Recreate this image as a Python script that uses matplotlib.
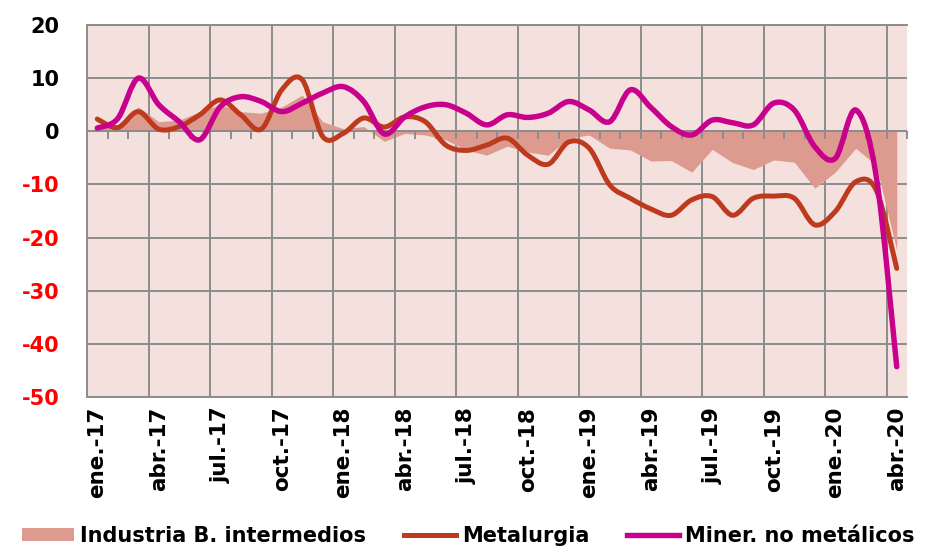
import numpy as np
import matplotlib
matplotlib.use("Agg")
import matplotlib.pyplot as plt
from matplotlib.path import Path
from matplotlib.patches import PathPatch, Patch
from matplotlib.lines import Line2D
from matplotlib.markers import TICKDOWN

plt.rcParams["font.family"] = ["DejaVu Sans"]
plt.rcParams["font.weight"] = "bold"
plt.rcParams["axes.unicode_minus"] = False

# monthly series, ene-17 .. abr-20
months = ["ene.-17", "feb.-17", "mar.-17", "abr.-17", "may.-17", "jun.-17",
          "jul.-17", "ago.-17", "sep.-17", "oct.-17", "nov.-17", "dic.-17",
          "ene.-18", "feb.-18", "mar.-18", "abr.-18", "may.-18", "jun.-18",
          "jul.-18", "ago.-18", "sep.-18", "oct.-18", "nov.-18", "dic.-18",
          "ene.-19", "feb.-19", "mar.-19", "abr.-19", "may.-19", "jun.-19",
          "jul.-19", "ago.-19", "sep.-19", "oct.-19", "nov.-19", "dic.-19",
          "ene.-20", "feb.-20", "mar.-20", "abr.-20"]
industria = [0.5, 1.2, 4.6, 1.8, 2.1, 3.7, 5.0, 3.7, 3.4, 4.6, 6.8, 1.8,
             0.5, 0.9, -1.9, -0.4, -0.7, -1.6, -3.5, -4.5, -2.8, -3.9, -4.5, -1.3,
             -0.7, -3.2, -3.5, -5.6, -5.5, -7.7, -3.4, -5.9, -7.2, -5.4, -5.8, -10.7,
             -7.7, -3.2, -6.4, -22.4]
metalurgia = [2.3, 0.7, 3.7, 0.4, 0.9, 3.1, 5.9, 3.1, 0.4, 7.8, 9.7, -1.0,
              -0.4, 2.5, 0.8, 2.7, 1.8, -2.6, -3.6, -2.6, -1.3, -4.5, -6.2, -2.0,
              -3.2, -10.1, -12.6, -14.6, -15.8, -12.9, -12.3, -15.8, -12.6, -12.2, -12.6, -17.6,
              -15.1, -9.5, -11.1, -25.8]
miner = [0.6, 2.4, 10.0, 5.0, 1.8, -1.6, 4.6, 6.5, 5.6, 3.7, 5.3, 7.2,
         8.4, 5.6, -0.5, 2.7, 4.6, 5.0, 3.4, 1.2, 3.1, 2.6, 3.4, 5.6,
         4.0, 1.8, 7.8, 4.5, 0.9, -0.7, 2.1, 1.6, 1.2, 5.3, 4.0, -2.9,
         -5.1, 4.0, -8.5, -44.3]
yticks = [20, 10, 0, -10, -20, -30, -40, -50]

BG = "#F4E1DE"
AREA = "#DD9B8F"
RED = "#BE3A1E"
MAG = "#C8008C"
GRID = "#8C8C8C"


def smooth_path(x, y):
    # Excel-style smoothed line: cubic Bezier through the points (Catmull-Rom)
    p = np.column_stack([x, y]).astype(float)
    n = len(p)
    verts = [p[0]]
    codes = [Path.MOVETO]
    for i in range(n - 1):
        p0 = p[i - 1] if i > 0 else p[i]
        p3 = p[i + 2] if i + 2 < n else p[i + 1]
        c1 = p[i] + (p[i + 1] - p0) / 6.0
        c2 = p[i + 1] - (p3 - p[i]) / 6.0
        verts += [c1, c2, p[i + 1]]
        codes += [Path.CURVE4] * 3
    return Path(verts, codes)


fig = plt.figure(figsize=(9.27, 5.56), dpi=100)
ax = fig.add_axes([87 / 927, 1 - 397 / 556, 820 / 927, 372 / 556])
ax.set_facecolor(BG)
ax.set_xlim(-0.5, len(months) - 0.5)
ax.set_ylim(-50, 20)
x = np.arange(len(months))

ax.fill_between(x, 0, industria, color=AREA, lw=0, zorder=2)
# category axis on the zero line, with small tick marks between months
bounds = np.arange(-0.5, len(months), 1)
ax.axhline(0, color=GRID, lw=1.4, zorder=3)
ax.plot(bounds, np.zeros(len(bounds)), ls="none", marker=TICKDOWN, ms=6, mew=1.4,
        color=GRID, zorder=3, clip_on=False)
for vals, col, lw in [(metalurgia, RED, 3.6), (miner, MAG, 3.9)]:
    ax.add_patch(PathPatch(smooth_path(x, vals), facecolor="none", edgecolor=col,
                           lw=lw, capstyle="round", joinstyle="round", zorder=4))

# grid
ax.set_yticks(yticks)
ax.yaxis.grid(True, color=GRID, lw=1.4)
ax.set_xticks(x[::3])
ax.set_xticklabels(months[::3], rotation=90, fontsize=15.5, fontweight="bold")
ax.set_xticks(np.arange(2.5, len(months) - 1, 3), minor=True)
ax.xaxis.grid(True, which="minor", color=GRID, lw=1.4)
ax.set_axisbelow(True)
ax.tick_params(axis="x", which="both", length=0, pad=7)
ax.tick_params(axis="y", length=0, pad=20, labelsize=15)
for lab, v in zip(ax.get_yticklabels(), yticks):
    lab.set_fontweight("bold")
    lab.set_color("black" if v >= 0 else "#FF0000")
for s in ["top", "left", "bottom"]:
    ax.spines[s].set_color(GRID)
    ax.spines[s].set_linewidth(1.4)
ax.spines["right"].set_visible(False)

handles = [Patch(facecolor=AREA, edgecolor="none"),
           Line2D([], [], color=RED, lw=3.6),
           Line2D([], [], color=MAG, lw=3.9)]
labels = ["Industria B. intermedios", "Metalurgia", "Miner. no metálicos"]
fig.legend(handles, labels, loc="lower center", bbox_to_anchor=(0.505, -0.015), ncol=3,
           frameon=False, handlelength=2.5, handleheight=0.6, columnspacing=1.8,
           handletextpad=0.3, prop={"size": 15, "weight": "bold"})

fig.savefig("out.png", dpi=100)
